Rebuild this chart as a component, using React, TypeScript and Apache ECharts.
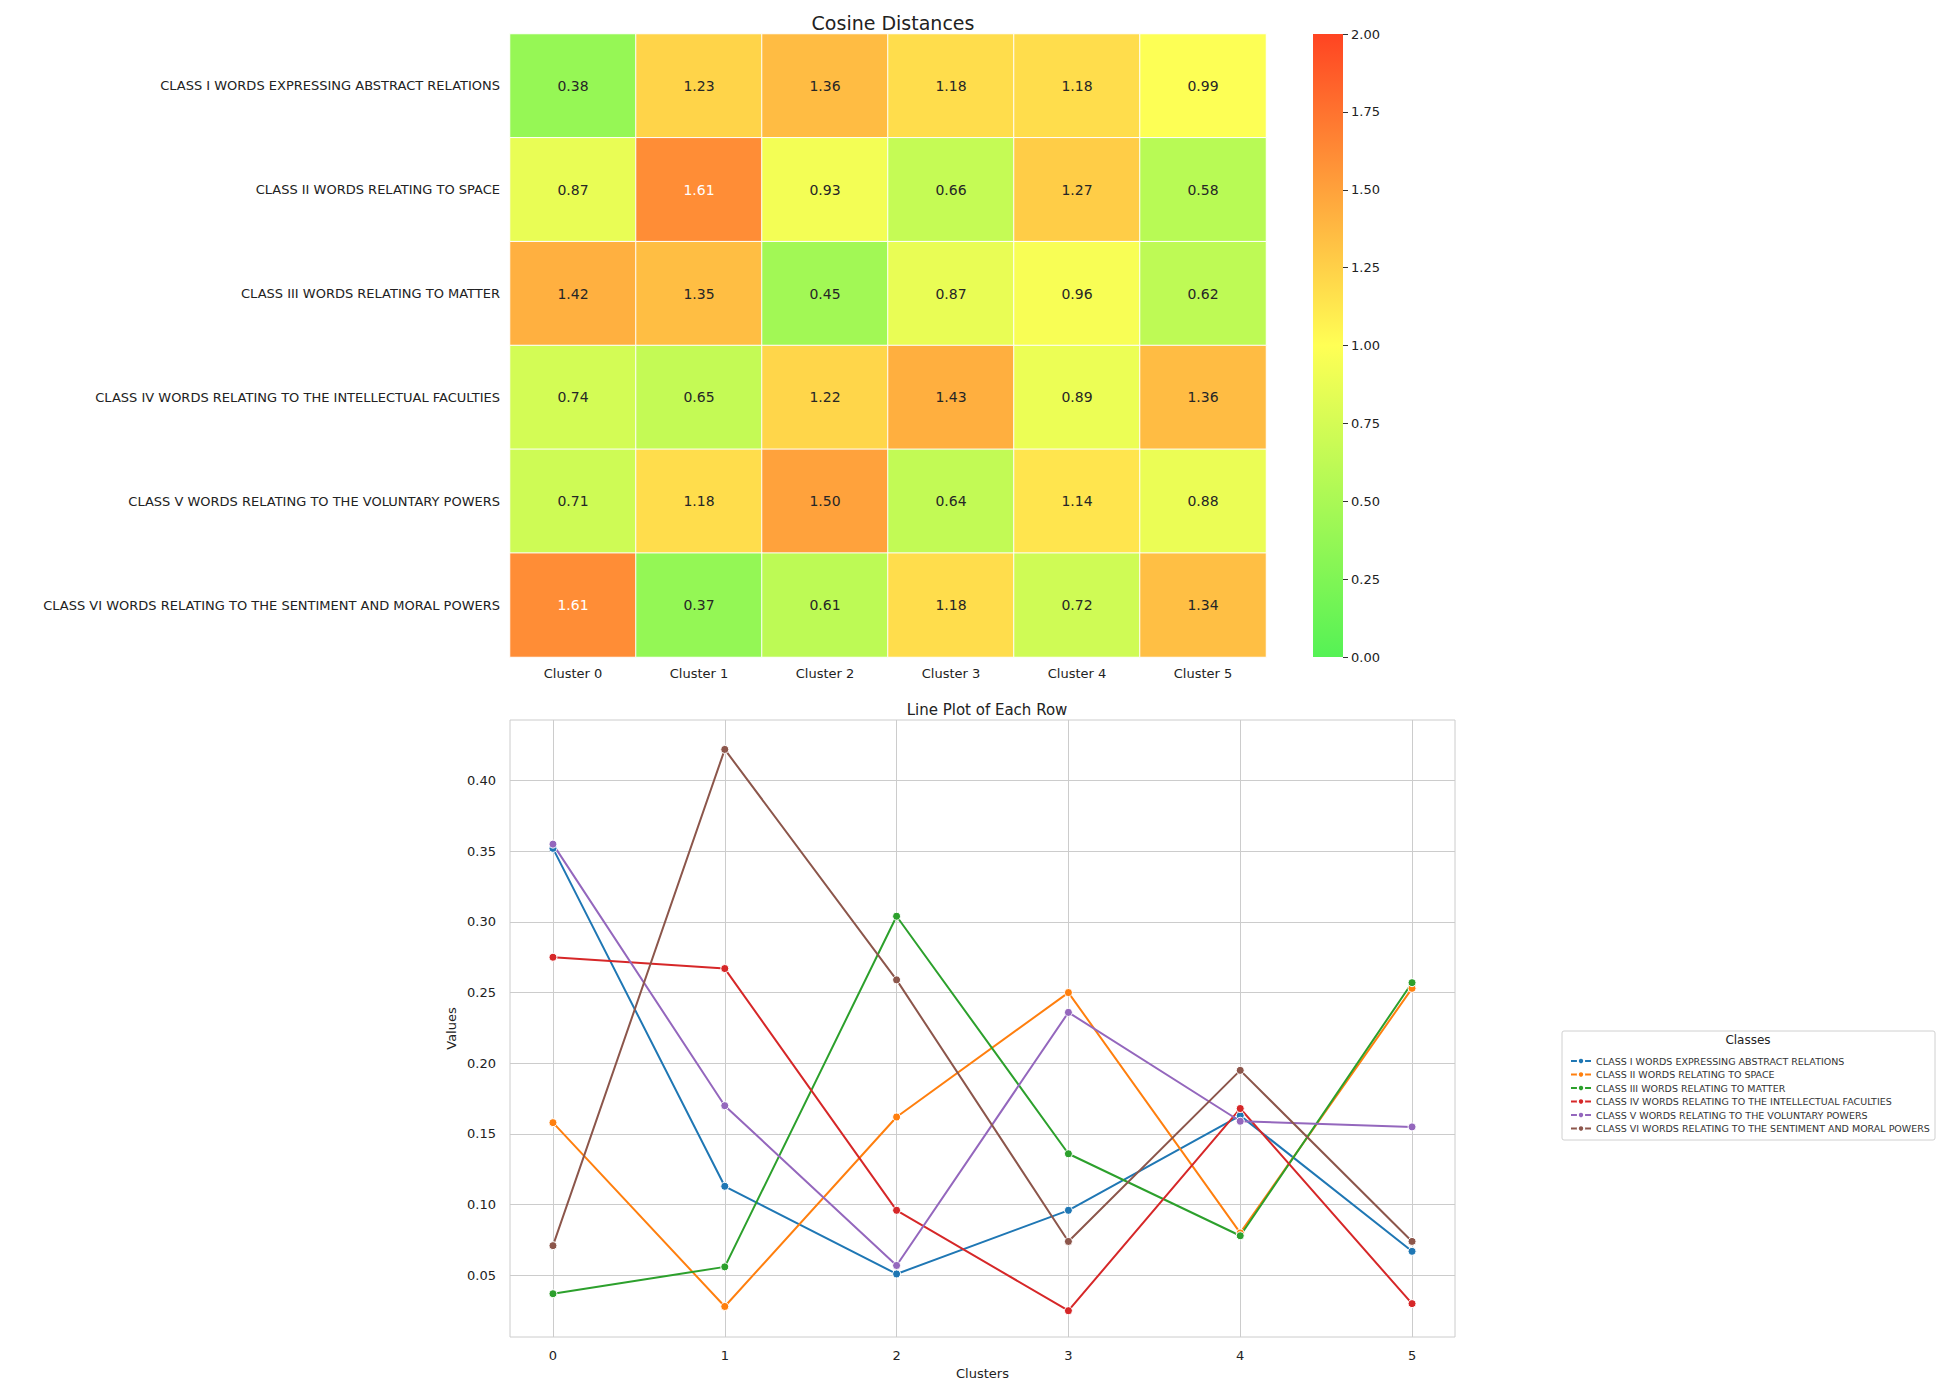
import React, { useEffect, useRef } from "react";
import * as echarts from "echarts";

const clusters = ["Cluster 0", "Cluster 1", "Cluster 2", "Cluster 3", "Cluster 4", "Cluster 5"];
const classes = [
  "CLASS I WORDS EXPRESSING ABSTRACT RELATIONS",
  "CLASS II WORDS RELATING TO SPACE",
  "CLASS III WORDS RELATING TO MATTER",
  "CLASS IV WORDS RELATING TO THE INTELLECTUAL FACULTIES",
  "CLASS V WORDS RELATING TO THE VOLUNTARY POWERS",
  "CLASS VI WORDS RELATING TO THE SENTIMENT AND MORAL POWERS",
];
const distances = [
  [0.38, 1.23, 1.36, 1.18, 1.18, 0.99],
  [0.87, 1.61, 0.93, 0.66, 1.27, 0.58],
  [1.42, 1.35, 0.45, 0.87, 0.96, 0.62],
  [0.74, 0.65, 1.22, 1.43, 0.89, 1.36],
  [0.71, 1.18, 1.5, 0.64, 1.14, 0.88],
  [1.61, 0.37, 0.61, 1.18, 0.72, 1.34],
];
const xIdx = [0, 1, 2, 3, 4, 5];
const rowValues = [
  [0.352, 0.113, 0.051, 0.096, 0.163, 0.067],
  [0.158, 0.028, 0.162, 0.25, 0.08, 0.253],
  [0.037, 0.056, 0.304, 0.136, 0.078, 0.257],
  [0.275, 0.267, 0.096, 0.025, 0.168, 0.03],
  [0.355, 0.17, 0.057, 0.236, 0.159, 0.155],
  [0.071, 0.422, 0.259, 0.074, 0.195, 0.074],
];
const lineColors = ["#1f77b4", "#ff7f0e", "#2ca02c", "#d62728", "#9467bd", "#8c564b"];
const yTicks = [0.05, 0.1, 0.15, 0.2, 0.25, 0.3, 0.35, 0.4];
const cbTicks = [0, 0.25, 0.5, 0.75, 1, 1.25, 1.5, 1.75, 2];
const heatColors = ["#55f255", "#ffff55", "#ff4422"];

export default function App() {
  const ref = useRef<HTMLDivElement>(null);
  useEffect(() => {
    const chart = echarts.init(ref.current!, null, { renderer: "svg" });
    const font = "DejaVu Sans";
    const heatData: any[] = [];
    distances.forEach((row, r) =>
      row.forEach((v, c) => heatData.push({
        value: [c, r, v],
        label: { color: v > 1.55 ? "#ffffff" : "#262626" },
      }))
    );
    chart.setOption({
      animation: false,
      textStyle: { fontFamily: font },
      title: [
        { text: "Cosine Distances", left: 880, top: 0, textAlign: "center", textStyle: { fontSize: 19, fontWeight: "normal", color: "#222", fontFamily: font } },
        { text: "Line Plot of Each Row", left: 974, top: 689, textAlign: "center", textStyle: { fontSize: 15, fontWeight: "normal", color: "#222", fontFamily: font } },
      ],
      visualMap: { show: false, min: 0, max: 2, seriesIndex: 0, inRange: { color: heatColors } },
      grid: [
        { left: 502, top: 26, width: 756, height: 623 },
        { left: 1305, top: 26, width: 30, height: 623 },
        { left: 502, top: 712, width: 945, height: 623, show: true, borderColor: "#cccccc", borderWidth: 1 },
      ],
      xAxis: [
        { gridIndex: 0, type: "category", data: clusters, axisLine: { show: false }, axisTick: { show: false }, axisLabel: { fontSize: 13, color: "#222", margin: 10 } },
        { gridIndex: 1, type: "category", data: [""], show: false },
        { gridIndex: 2, type: "value", min: -0.25, max: 5.25, name: "Clusters", nameLocation: "middle", nameGap: 30, nameTextStyle: { fontSize: 13, color: "#222" },
          axisLine: { show: false }, axisTick: { show: false, customValues: xIdx },
          axisLabel: { fontSize: 13, color: "#222", customValues: xIdx, margin: 12 },
          splitLine: { show: true, lineStyle: { color: "#cccccc" } } },
      ],
      yAxis: [
        { gridIndex: 0, type: "category", data: classes, inverse: true, axisLine: { show: false }, axisTick: { show: false }, axisLabel: { fontSize: 13, color: "#222", margin: 10 } },
        { gridIndex: 1, type: "value", min: 0, max: 2, interval: 0.25, position: "right", axisLine: { show: false },
          axisTick: { show: true, length: 5, lineStyle: { color: "#333" } }, splitLine: { show: false },
          axisLabel: { fontSize: 13, color: "#222", formatter: (v: number) => v.toFixed(2) } },
        { gridIndex: 2, type: "value", min: 0.0064, max: 0.4428, name: "Values", nameLocation: "middle", nameGap: 52, nameTextStyle: { fontSize: 13, color: "#222" },
          axisLine: { show: false }, axisTick: { show: false, customValues: yTicks },
          axisLabel: { fontSize: 13, color: "#222", customValues: yTicks, formatter: (v: number) => v.toFixed(2), margin: 14 },
          splitLine: { show: true, lineStyle: { color: "#cccccc" } } },
      ],
      legend: {
        orient: "vertical", left: 1557, top: 1043, itemGap: 3.5, itemWidth: 20, itemHeight: 8,
        textStyle: { fontSize: 9.5, color: "#333" }, data: classes,
      },
      graphic: [
        { type: "rect", shape: { x: 1554, y: 1023, width: 373, height: 109, r: 2 }, style: { fill: "#fff", stroke: "#d0d0d0", lineWidth: 1 }, z: -1 },
        { type: "text", x: 1740, y: 1026, style: { text: "Classes", fontSize: 12, fill: "#222", textAlign: "center", fontFamily: font } },
        { type: "rect", shape: { x: 1305, y: 26, width: 30, height: 623 }, style: {
          fill: new echarts.graphic.LinearGradient(0, 1, 0, 0, [
            { offset: 0, color: heatColors[0] }, { offset: 0.5, color: heatColors[1] }, { offset: 1, color: heatColors[2] },
          ]) } },
      ],
      series: [
        { type: "heatmap", xAxisIndex: 0, yAxisIndex: 0, data: heatData,
          itemStyle: { borderColor: "#ffffff", borderWidth: 1 },
          label: { show: true, fontSize: 14, formatter: (p: any) => p.value[2].toFixed(2) } },
        ...rowValues.map((vals, i) => ({
          type: "line", name: classes[i], xAxisIndex: 2, yAxisIndex: 2,
          data: vals.map((v, j) => [xIdx[j], v]),
          symbol: "circle", symbolSize: 8, color: lineColors[i],
          lineStyle: { width: 2, color: lineColors[i] },
          itemStyle: { color: lineColors[i], borderColor: "#fff", borderWidth: 1 },
        })),
      ],
    });
    return () => chart.dispose();
  }, []);
  return <div ref={ref} style={{ width: 1929, height: 1373 }} />;
}
